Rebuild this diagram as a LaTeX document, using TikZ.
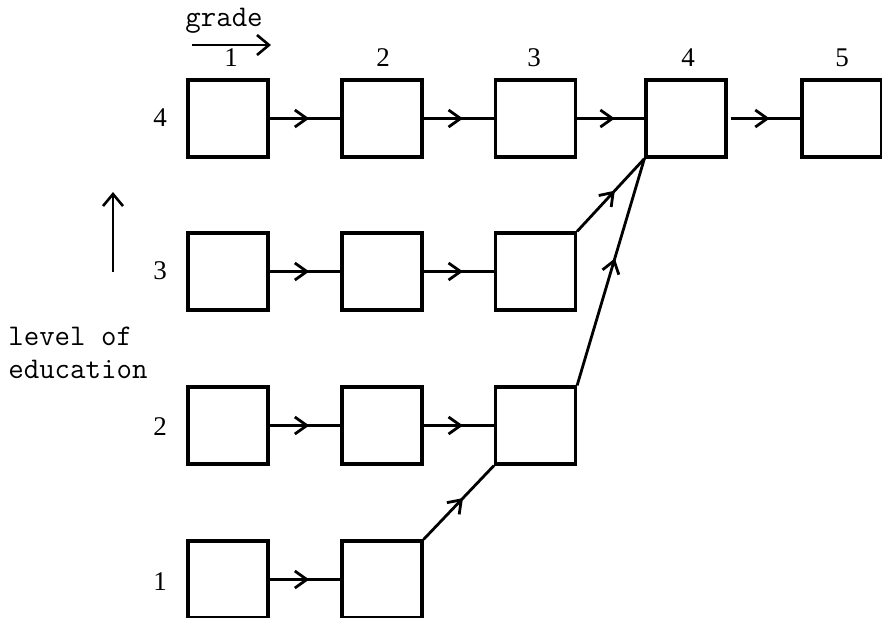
\documentclass[tikz,border=0pt]{standalone}
\usepackage{fontspec}
\setmainfont{Liberation Serif}
\usetikzlibrary{arrows.meta,decorations.markings}
\begin{document}
\begin{tikzpicture}[x=0.5pt,y=-0.5pt,
  box/.style={draw,line width=1.6pt,minimum width=40pt,minimum height=38.5pt,inner sep=0pt},
  num/.style={font=\fontsize{13.5}{15}\selectfont,inner sep=0pt},
  lbl/.style={font=\ttfamily\fontsize{15}{16}\selectfont,inner sep=0pt},
  flow/.style={line width=1.4pt,postaction={decorate},
    decoration={markings,mark=at position 0.56 with {\arrow{Straight Barb[length=6pt,width=8.5pt,line width=1.4pt]}}}},
  axis/.style={line width=1.3pt,-{Straight Barb[length=6pt,width=10pt,line width=1.3pt]}}]
\useasboundingbox (0,0) rectangle (882,617);
% boxes: columns c1..c5, rows r1..r4
\node[box] (b14) at (228,118.5) {};
\node[box] (b24) at (382,118.5) {};
\node[box] (b34) at (535.5,118.5) {};
\node[box] (b44) at (686,118.5) {};
\node[box] (b54) at (842,118.5) {};
\node[box] (b13) at (228,271.5) {};
\node[box] (b23) at (382,271.5) {};
\node[box] (b33) at (535.5,271.5) {};
\node[box] (b12) at (228,425.5) {};
\node[box] (b22) at (382,425.5) {};
\node[box] (b32) at (535.5,425.5) {};
\node[box] (b11) at (228,579.5) {};
\node[box] (b21) at (382,579.5) {};
% column labels
\node[num] (g1) at (231,58) {1};
\node[num] (g2) at (383,58) {2};
\node[num] (g3) at (534,58) {3};
\node[num] (g4) at (688,58) {4};
\node[num] (g5) at (842,58) {5};
% row labels
\node[num] (l4) at (160,118) {4};
\node[num] (l3) at (160,271) {3};
\node[num] (l2) at (160,427) {2};
\node[num] (l1) at (160,582) {1};
% axis labels
\node[lbl,anchor=base west] (grade) at (185,26) {grade};
\node[lbl,anchor=base west] (lvl1) at (8,345) {level of};
\node[lbl,anchor=base west] (lvl2) at (8,378) {education};
\coordinate (ga) at (192,45);
\coordinate (gb) at (271,45);
\coordinate (ua) at (113,272);
\coordinate (ub) at (113,192);
\draw[axis] (ga) -- (gb);
\draw[axis] (ua) -- (ub);
% horizontal flows
\draw[flow] (b14.east) -- (b24.west);
\draw[flow] (b24.east) -- (b34.west);
\draw[flow] (b34.east) -- (b44.west);
\draw[flow] ([xshift=1.5pt]b44.east) -- (b54.west);
\draw[flow] (b13.east) -- (b23.west);
\draw[flow] (b23.east) -- (b33.west);
\draw[flow] (b12.east) -- (b22.west);
\draw[flow] (b22.east) -- (b32.west);
\draw[flow] (b11.east) -- (b21.west);
% diagonal flows
\draw[flow] (b21.north east) -- (b32.south west);
\draw[flow] (b32.north east) -- (b44.south west);
\draw[flow] (b33.north east) -- (b44.south west);
\end{tikzpicture}
\end{document}
